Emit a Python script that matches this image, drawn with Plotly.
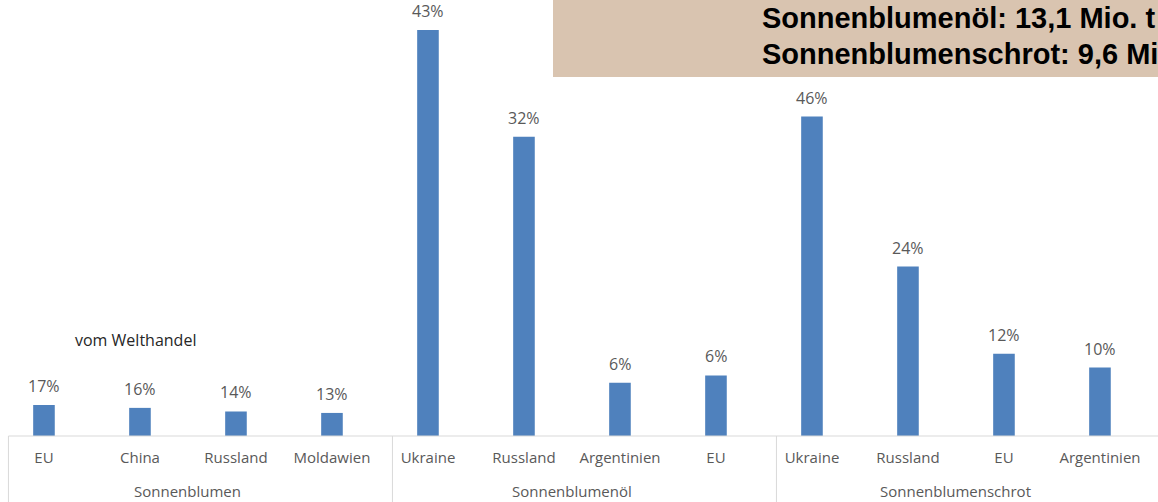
import plotly.graph_objects as go

# Sonnenblumen-Welthandel: Menge (Mio. t, aus Balkenhöhen geschätzt) und Anteil am Welthandel
group_names = ["Sonnenblumen", "Sonnenblumenöl", "Sonnenblumenschrot"]
countries = ["EU", "China", "Russland", "Moldawien",
             "Ukraine", "Russland", "Argentinien", "EU",
             "Ukraine", "Russland", "EU", "Argentinien"]
volumes = [0.43, 0.39, 0.34, 0.32,
           5.63, 4.15, 0.74, 0.84,
           4.43, 2.35, 1.14, 0.95]
shares = [17, 16, 14, 13,
          43, 32, 6, 6,
          46, 24, 12, 10]
totals = ["Sonnenblumenöl: 13,1 Mio. t", "Sonnenblumenschrot: 9,6 Mio. t"]

BAR_COLOR = "#4F81BD"
TEXT_GRAY = "#595959"
LINE_GRAY = "#D9D9D9"
FONT = "Open Sans"

W, H = 1158, 502
PLOT_H = 436      # baseline sits 66px above the bottom edge
PX_PER_MT = 72.1

xs = list(range(len(countries)))

fig = go.Figure()
fig.add_trace(go.Bar(
    x=xs, y=volumes,
    marker_color=BAR_COLOR, marker_line_width=0,
    width=0.225,
    hoverinfo="skip",
))

# percentage labels above the bars
for x, v, s in zip(xs, volumes, shares):
    fig.add_annotation(x=x, y=v, xref="x", yref="y", text=f"{s}%",
                       yanchor="bottom", yshift=6, showarrow=False,
                       font=dict(family=FONT, size=16, color=TEXT_GRAY))

# group labels + dividers (second axis row)
for g, name in enumerate(group_names):
    fig.add_annotation(x=g * 4 + 1.5, y=-55 / PLOT_H, xref="x", yref="paper",
                       text=name, showarrow=False, yanchor="middle",
                       font=dict(family=FONT, size=15, color=TEXT_GRAY))
    fig.add_shape(type="line", xref="x", yref="paper",
                  x0=g * 4 - 0.37, x1=g * 4 - 0.37, y0=0, y1=-0.16,
                  line=dict(color=LINE_GRAY, width=1))
# axis base line
fig.add_shape(type="line", xref="x", yref="paper",
              x0=-0.37, x1=11.7, y0=0, y1=0,
              line=dict(color=LINE_GRAY, width=1))

# box with totals (top right, cut off at the edge)
fig.add_shape(type="rect", xref="paper", yref="paper",
              x0=553 / W, x1=1.02, y0=(PLOT_H - 77) / PLOT_H, y1=1.1,
              fillcolor="#D9C4B0", line_width=0, layer="above")
for k, line in enumerate(totals):
    fig.add_annotation(xref="paper", yref="paper", x=760 / W,
                       y=(PLOT_H - 18 - 36 * k) / PLOT_H,
                       xanchor="left", yanchor="middle", showarrow=False,
                       text=f"<b>{line}</b>",
                       font=dict(family="Liberation Sans", size=29, color="black"))

fig.add_annotation(xref="paper", yref="paper", x=73 / W, y=(PLOT_H - 340) / PLOT_H,
                   xanchor="left", yanchor="middle", showarrow=False,
                   text="vom Welthandel",
                   font=dict(family=FONT, size=16, color="#262626"))

fig.update_xaxes(
    range=[-0.458, -0.458 + W / 96],
    tickvals=xs, ticktext=countries,
    showline=False, ticks="", showgrid=False, zeroline=False,
    ticklabelstandoff=11,
    tickfont=dict(color=TEXT_GRAY, size=15, family=FONT),
)
fig.update_yaxes(visible=False, range=[0, PLOT_H / PX_PER_MT], showgrid=False)

fig.update_layout(
    width=W, height=H,
    margin=dict(l=0, r=0, t=0, b=H - PLOT_H, autoexpand=False),
    plot_bgcolor="white", paper_bgcolor="white",
    showlegend=False,
    font=dict(family=FONT),
)

# no modebar, and drop the default 8px page margin so the chart fills the window
fig.write_html("out.html", config={"displayModeBar": False},
               post_script="document.body.style.margin='0';")
